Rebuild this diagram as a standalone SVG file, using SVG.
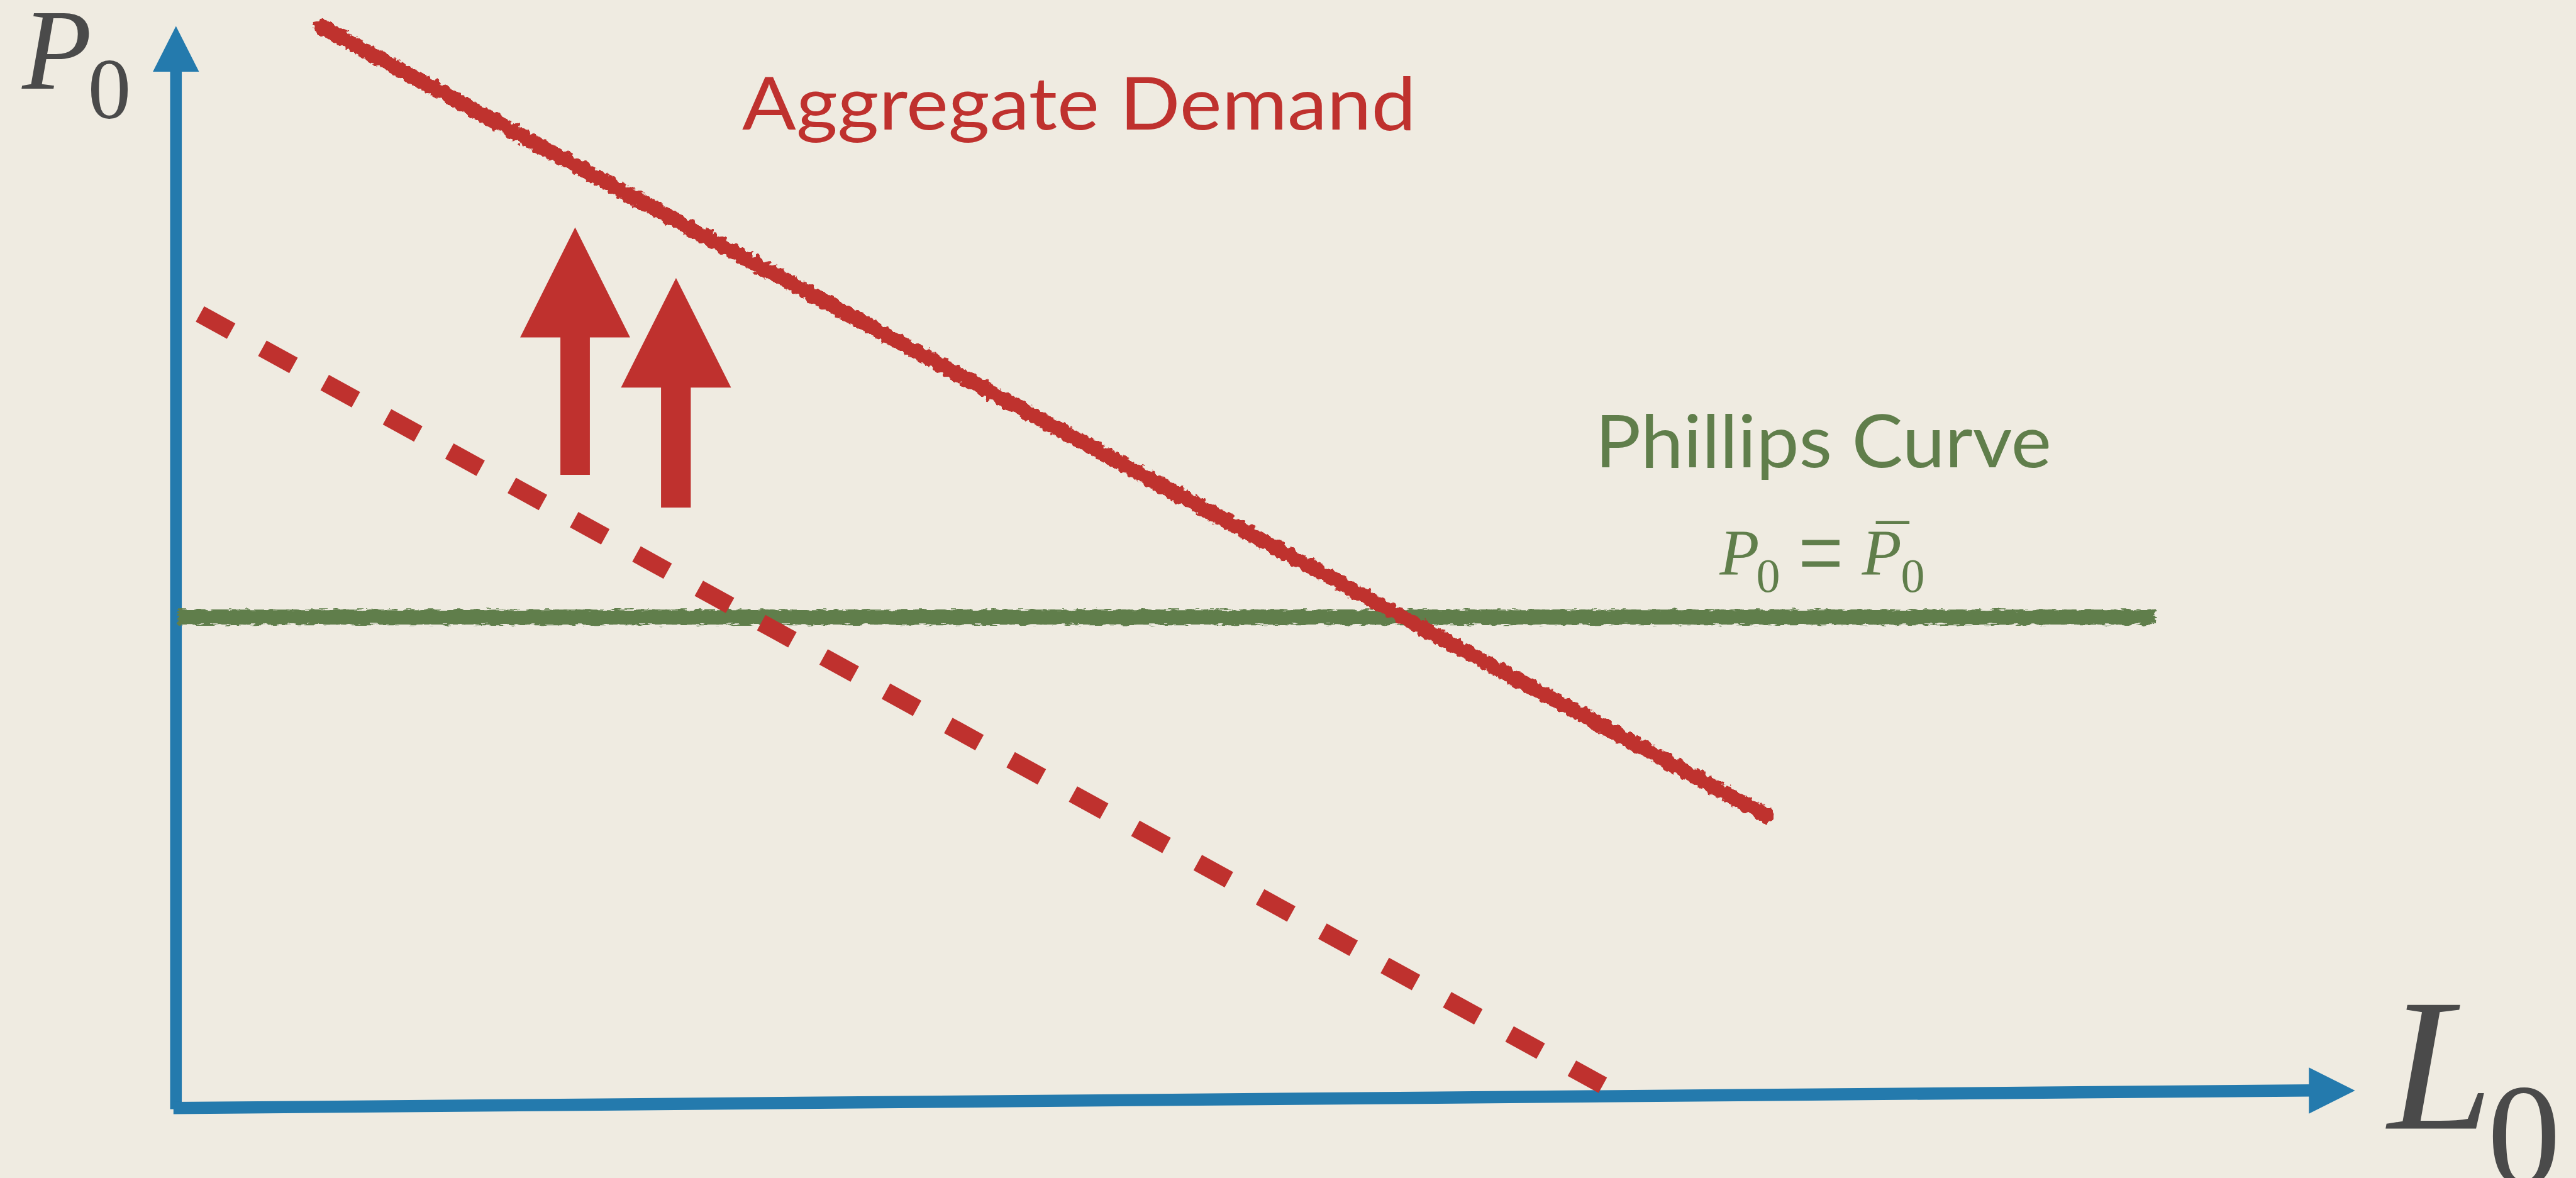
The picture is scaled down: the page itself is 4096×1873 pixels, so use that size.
<svg xmlns="http://www.w3.org/2000/svg" width="4096" height="1873" viewBox="0 0 4096 1873">
<defs>
<style>
.axis{fill:#247aad}
.red{fill:#bf312e}
.label{font-family:"Liberation Serif","Times New Roman",serif;fill:#4a4a4a}
.title{font-family:Lato,"Noto Sans",sans-serif;font-size:132px}
.math{font-family:"Liberation Serif","Times New Roman",serif;fill:#607e4b}
</style>
<filter id="rough" filterUnits="userSpaceOnUse" x="0" y="0" width="4631" height="2118">
<feTurbulence type="fractalNoise" baseFrequency="0.1" numOctaves="2" seed="3" result="n"/>
<feDisplacementMap in="SourceGraphic" in2="n" scale="14" xChannelSelector="R" yChannelSelector="G"/>
</filter>
<filter id="roughH" filterUnits="userSpaceOnUse" x="0" y="0" width="4631" height="2118">
<feTurbulence type="fractalNoise" baseFrequency="0.06 0.3" numOctaves="2" seed="7" result="n"/>
<feDisplacementMap in="SourceGraphic" in2="n" scale="11" xChannelSelector="R" yChannelSelector="G"/>
</filter>
</defs>
<rect width="4096" height="1873" fill="#efebe1"/>
<g transform="scale(0.884)">
<g id="axes">
<g id="y-axis">
<rect x="306" y="125" width="21" height="1870" class="axis"/>
<polygon points="316.5,47 358,129 275,129" class="axis"/>
</g>
<g id="x-axis">
<polygon points="312,1982 4160,1950.2 4160,1972.2 312,2004" class="axis"/>
<polygon points="4153,1920 4236,1961.5 4153,2003" class="axis"/>
</g>
</g>
<g id="phillips-curve">
<line x1="320" y1="1110" x2="3877" y2="1110" stroke="#607e4b" stroke-width="27" filter="url(#roughH)"/>
</g>
<g id="connectors">
<line id="old-demand" x1="359.7" y1="564.8" x2="2883" y2="1952" stroke="#bf312e" stroke-width="31.6" stroke-dasharray="64 64"/>
<line id="aggregate-demand" x1="578" y1="48" x2="3177" y2="1467" stroke="#bf312e" stroke-width="27" stroke-linecap="round" filter="url(#rough)"/>
</g>
<g id="shift-arrows">
<polygon class="red" points="1034.5,409 1133.4,607 1061,607 1061,854 1008,854 1008,607 935.6,607"/>
<polygon class="red" points="1216,500 1315,697 1242.5,697 1242.5,913 1189,913 1189,697 1117,697"/>
</g>
<g id="label-p0">
<text class="label" font-size="205"><tspan x="40" y="160" font-style="italic">P</tspan><tspan x="158" y="213" font-size="155">0</tspan></text>
</g>
<g id="label-l0">
<text class="label" font-size="340"><tspan x="4295" y="2030" font-style="italic">L</tspan><tspan x="4474" y="2131" font-size="264">0</tspan></text>
</g>
<g id="label-ad">
<text class="title" x="1335" y="233" fill="#bf312e" textLength="1212" lengthAdjust="spacingAndGlyphs">Aggregate Demand</text>
</g>
<g id="label-pc">
<text class="title" x="2869" y="841" fill="#607e4b" textLength="821" lengthAdjust="spacingAndGlyphs">Phillips Curve</text>
<text class="math" font-size="117"><tspan x="3093" y="1034" font-style="italic">P</tspan><tspan x="3159" y="1064" font-size="86">0</tspan></text>
<text class="math" font-size="120" text-anchor="middle" transform="translate(3275 1004.5) scale(1.2 1.6)" x="0" y="34">=</text>
<text class="math" font-size="117"><tspan x="3349" y="1034" font-style="italic">P</tspan><tspan x="3419" y="1064" font-size="86">0</tspan><tspan x="3375" y="1026">¯</tspan></text>
</g>
</g>
</svg>
